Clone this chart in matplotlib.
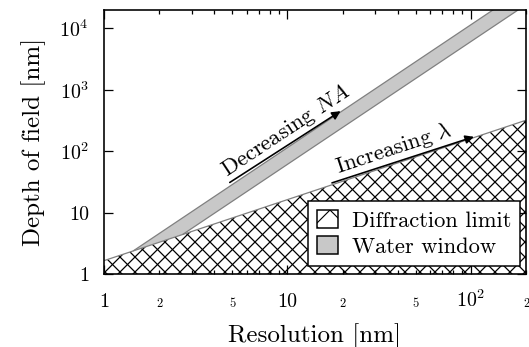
import matplotlib
matplotlib.use("Agg")
import numpy as np
import matplotlib.pyplot as plt
from matplotlib.patches import Polygon, Patch
from matplotlib.collections import LineCollection
from matplotlib.transforms import IdentityTransform, blended_transform_factory
from matplotlib.ticker import FixedLocator, NullLocator

plt.rcParams['font.family'] = ['cmr10', 'DejaVu Serif']
plt.rcParams['mathtext.fontset'] = 'cm'
plt.rcParams['axes.unicode_minus'] = False
plt.rcParams['hatch.linewidth'] = 0.9
plt.rcParams['axes.formatter.use_mathtext'] = True

# ---- data ----
diffraction_res = [1, 200]
diffraction_dof = [1.65, 320]
water_upper_res = [1.45, 132]
water_upper_dof = [2.4, 2e4]
water_lower_res = [2.7, 181]
water_lower_dof = [4.45, 2e4]

arrow_na_tail = (4.85, 31)
arrow_na_head = (19.5, 450)
arrow_lam_tail = (17.5, 30.5)
arrow_lam_head = (104, 172)

x_major = [1, 10, 100]
x_major_labels = ['1', '10', '$10^2$']
x_minor = [2, 3, 4, 5, 6, 7, 8, 9, 20, 30, 40, 50, 60, 70, 80, 90, 200]
x_minor_label_pos = [2, 5, 20, 50, 200]
x_minor_labels = ['2', '5', '2', '5', '2']
y_major = [1, 10, 100, 1000, 10000]
y_major_labels = ['1', '10', '$10^2$', '$10^3$', '$10^4$']

W, H, DPI = 529, 347, 90
fig = plt.figure(figsize=(W / DPI, H / DPI), dpi=DPI)
ax = fig.add_axes([104 / W, 1 - 274 / H, 422 / W, 264 / H])
ax.set_xscale('log')
ax.set_yscale('log')
ax.set_xlim(1, 200)
ax.set_ylim(1, 2e4)

fill_gray = '#c8c8c8'
edge_gray = '#808080'

# diffraction limit (hatched region)
diff_poly = [(diffraction_res[0], 1), (diffraction_res[0], diffraction_dof[0]),
             (diffraction_res[1], diffraction_dof[1]), (diffraction_res[1], 1)]
diff_patch = Polygon(diff_poly, closed=True, facecolor='white', edgecolor='none',
                     linewidth=0, zorder=1)
ax.add_patch(diff_patch)

# cross-hatch pattern drawn in pixel space, clipped to the region
sp = 15.0
segs = []
for c in np.arange(-600, 400, sp):
    segs.append([(0, c), (W, W + c)])
for e in np.arange(0, 900, sp):
    segs.append([(0, e), (W, e - W)])
hatch = LineCollection(segs, colors='black', linewidths=1.0, transform=IdentityTransform(),
                       zorder=1.5)
ax.add_collection(hatch, autolim=False)
hatch.set_clip_path(diff_patch)

ax.plot(diffraction_res, diffraction_dof, color=edge_gray, lw=1.0, zorder=3)

# water window band
water_poly = [(water_upper_res[0], water_upper_dof[0]), (water_upper_res[1], water_upper_dof[1]),
              (water_lower_res[1], water_lower_dof[1]), (water_lower_res[0], water_lower_dof[0])]
ax.add_patch(Polygon(water_poly, closed=True, facecolor=fill_gray, edgecolor='none', zorder=2))
ax.plot(water_upper_res, water_upper_dof, color=edge_gray, lw=1.0, zorder=3)
ax.plot(water_lower_res, water_lower_dof, color=edge_gray, lw=1.0, zorder=3)

# arrows
ap = dict(arrowstyle='-|>', color='black', lw=1.3, mutation_scale=14, shrinkA=0, shrinkB=0)
ax.annotate('', xy=arrow_na_head, xytext=arrow_na_tail, arrowprops=ap, zorder=4)
ax.annotate('', xy=arrow_lam_head, xytext=arrow_lam_tail, arrowprops=ap, zorder=4)
ax.annotate('Decreasing $NA$', xy=(10.6, 136), xytext=(0.5, 2.0), textcoords='offset points',
            rotation=33.5, rotation_mode='anchor', ha='center', va='bottom', fontsize=18, zorder=5)
ax.annotate(r'Increasing $\lambda$', xy=(40, 68), xytext=(0, 1.5), textcoords='offset points',
            rotation=18.3, rotation_mode='anchor', ha='center', va='bottom', fontsize=18, zorder=5)

# ticks
ax.xaxis.set_major_locator(FixedLocator(x_major))
ax.xaxis.set_minor_locator(FixedLocator(x_minor))
ax.yaxis.set_major_locator(FixedLocator(y_major))
ax.yaxis.set_minor_locator(NullLocator())
ax.set_yticklabels(y_major_labels)

ax.tick_params(which='both', direction='in', top=True, right=True, width=1.0)
ax.tick_params(which='major', length=7)
ax.tick_params(which='minor', length=3.5)
ax.tick_params(axis='x', which='both', labelbottom=False)
ax.tick_params(axis='y', which='major', labelsize=16, pad=12)

# x tick labels, baseline-aligned
tr = blended_transform_factory(ax.transData, ax.transAxes)
base_y = -33 / 264
for xv, lab in zip(x_major, x_major_labels):
    ax.text(xv, base_y, lab, transform=tr, ha='center', va='baseline', fontsize=16)
for xv, lab in zip(x_minor_label_pos, x_minor_labels):
    ax.text(xv, base_y, lab, transform=tr, ha='center', va='baseline', fontsize=10)

for s in ax.spines.values():
    s.set_linewidth(1.3)
    s.set_zorder(6)

ax.set_xlabel('Resolution [nm]', fontsize=20)
ax.set_ylabel('Depth of field [nm]', fontsize=20)
ax.xaxis.set_label_coords(0.5, -49 / 264)
ax.yaxis.set_label_coords(-58 / 422, 0.5)

handles = [Patch(facecolor='white', edgecolor='black', hatch='x', linewidth=1.2),
           Patch(facecolor=fill_gray, edgecolor='black', linewidth=1.2)]
leg = ax.legend(handles, ['Diffraction limit', 'Water window'], loc='lower right',
                bbox_to_anchor=((520 - 104) / 422, 8 / 264), borderaxespad=0,
                fontsize=18, fancybox=False, edgecolor='black', framealpha=1,
                handlelength=0.95, handleheight=0.85, handletextpad=0.6,
                labelspacing=0.25, borderpad=0.4)
leg.get_frame().set_linewidth(1.2)
leg.set_zorder(7)

fig.savefig('out.png', dpi=DPI)
